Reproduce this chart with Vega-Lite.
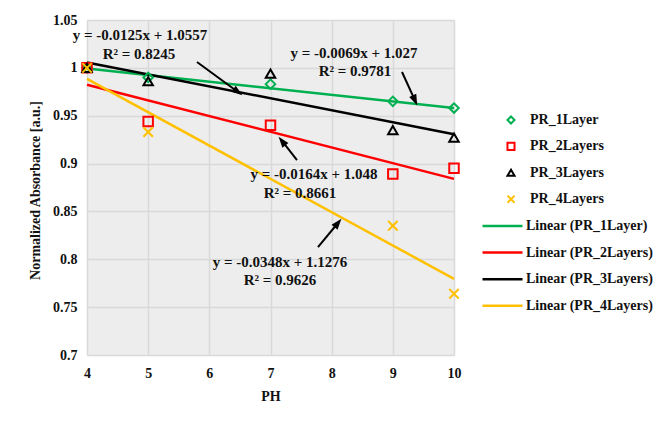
{
  "$schema": "https://vega.github.io/schema/vega-lite/v6.json",
  "width": 367,
  "height": 335,
  "autosize": {"type": "none"},
  "padding": {"left": 87, "top": 20, "right": 206, "bottom": 66},
  "background": "white",
  "config": {
    "view": {"fill": "#ededed", "stroke": null},
    "font": "Liberation Serif",
    "axis": {
      "labelFont": "Liberation Serif", "labelFontWeight": "bold", "labelFontSize": 14, "labelColor": "#111",
      "titleFont": "Liberation Serif", "titleFontWeight": "bold", "titleFontSize": 14, "titleColor": "#111",
      "domain": false, "ticks": false, "gridColor": "#d9d9d9", "gridWidth": 1.5, "labelFlush": false
    },
    "legend": {
      "labelFont": "Liberation Serif", "labelFontWeight": "bold", "labelFontSize": 14, "labelColor": "#111",
      "padding": 0
    }
  },
  "datasets": {
    "points": [
      {"series": "PR_1Layer", "ph": 4, "abs": 1.0},
      {"series": "PR_1Layer", "ph": 5, "abs": 0.99},
      {"series": "PR_1Layer", "ph": 7, "abs": 0.983},
      {"series": "PR_1Layer", "ph": 9, "abs": 0.965},
      {"series": "PR_1Layer", "ph": 10, "abs": 0.958},
      {"series": "PR_2Layers", "ph": 4, "abs": 1.0},
      {"series": "PR_2Layers", "ph": 5, "abs": 0.944},
      {"series": "PR_2Layers", "ph": 7, "abs": 0.94},
      {"series": "PR_2Layers", "ph": 9, "abs": 0.889},
      {"series": "PR_2Layers", "ph": 10, "abs": 0.895},
      {"series": "PR_3Layers", "ph": 4, "abs": 1.0},
      {"series": "PR_3Layers", "ph": 5, "abs": 0.986},
      {"series": "PR_3Layers", "ph": 7, "abs": 0.994},
      {"series": "PR_3Layers", "ph": 9, "abs": 0.935},
      {"series": "PR_3Layers", "ph": 10, "abs": 0.927},
      {"series": "PR_4Layers", "ph": 4, "abs": 1.0},
      {"series": "PR_4Layers", "ph": 5, "abs": 0.933},
      {"series": "PR_4Layers", "ph": 9, "abs": 0.835},
      {"series": "PR_4Layers", "ph": 10, "abs": 0.764}
    ],
    "trends": [
      {"trend": "Linear (PR_1Layer)", "ph": 4, "abs": 0.9994},
      {"trend": "Linear (PR_1Layer)", "ph": 10, "abs": 0.958},
      {"trend": "Linear (PR_2Layers)", "ph": 4, "abs": 0.9824},
      {"trend": "Linear (PR_2Layers)", "ph": 10, "abs": 0.884},
      {"trend": "Linear (PR_3Layers)", "ph": 4, "abs": 1.0057},
      {"trend": "Linear (PR_3Layers)", "ph": 10, "abs": 0.9307},
      {"trend": "Linear (PR_4Layers)", "ph": 4, "abs": 0.9884},
      {"trend": "Linear (PR_4Layers)", "ph": 10, "abs": 0.7796}
    ],
    "notes": [
      {"text": "y = -0.0125x + 1.0557", "ph": 4.866, "abs": 1.0343},
      {"text": "R² = 0.8245", "ph": 4.85, "abs": 1.0145},
      {"text": "y = -0.0069x + 1.027", "ph": 8.365, "abs": 1.0155},
      {"text": "R² = 0.9781", "ph": 8.381, "abs": 0.9967},
      {"text": "y = -0.0164x + 1.048", "ph": 7.711, "abs": 0.8891},
      {"text": "R² = 0.8661", "ph": 7.482, "abs": 0.8692},
      {"text": "y = -0.0348x + 1.1276", "ph": 7.155, "abs": 0.7971},
      {"text": "R² = 0.9626", "ph": 7.155, "abs": 0.7783}
    ],
    "arrows": [
      {"id": 1, "ph": 5.798, "abs": 1.0061, "hph": 6.468, "habs": 0.9748},
      {"id": 2, "ph": 9.15, "abs": 0.9957, "hph": 9.362, "habs": 0.966},
      {"id": 3, "ph": 7.433, "abs": 0.9037, "hph": 7.188, "habs": 0.9236},
      {"id": 4, "ph": 7.776, "abs": 0.8128, "hph": 8.103, "habs": 0.8379}
    ]
  },
  "layer": [
    {
      "data": {"name": "trends"},
      "mark": {"type": "line", "strokeWidth": 2.5},
      "encoding": {
        "x": {"field": "ph", "type": "quantitative", "title": "PH",
          "scale": {"domain": [4, 10], "nice": false, "zero": false},
          "axis": {"values": [4, 5, 6, 7, 8, 9, 10], "format": "d", "labelPadding": 11, "titleY": 41, "titleBaseline": "middle"}},
        "y": {"field": "abs", "type": "quantitative", "title": "Normalized Absorbance [a.u.]",
          "scale": {"domain": [0.7, 1.05], "nice": false, "zero": false},
          "axis": {"values": [0.7, 0.75, 0.8, 0.85, 0.9, 0.95, 1, 1.05], "format": "~g", "labelPadding": 10,
            "titleX": -52, "titleY": 170, "titleAngle": -90, "titleAlign": "center", "titleBaseline": "middle"}},
        "stroke": {"field": "trend", "type": "nominal",
          "scale": {"domain": ["Linear (PR_1Layer)", "Linear (PR_2Layers)", "Linear (PR_3Layers)", "Linear (PR_4Layers)"],
            "range": ["#00B050", "#FF0000", "#000000", "#FFC000"]},
          "legend": {"title": null, "orient": "none", "legendX": 394, "legendY": 199,
            "symbolType": "stroke", "symbolSize": 1600, "symbolStrokeWidth": 2.5,
            "clipHeight": 14, "rowPadding": 12.6, "labelOffset": 2}}
      }
    },
    {
      "data": {"name": "points"},
      "mark": {"type": "point", "filled": false, "strokeWidth": 2, "size": 90, "opacity": 1},
      "encoding": {
        "x": {"field": "ph", "type": "quantitative"},
        "y": {"field": "abs", "type": "quantitative"},
        "color": {"field": "series", "type": "nominal",
          "scale": {"domain": ["PR_1Layer", "PR_2Layers", "PR_3Layers", "PR_4Layers"],
            "range": ["#00B050", "#FF0000", "#000000", "#FFC000"]},
          "legend": {"title": null, "orient": "none", "legendX": 417, "legendY": 93,
            "symbolSize": 50, "symbolStrokeWidth": 2, "clipHeight": 14, "rowPadding": 12.4, "labelOffset": 12}},
        "shape": {"field": "series", "type": "nominal",
          "scale": {"domain": ["PR_1Layer", "PR_2Layers", "PR_3Layers", "PR_4Layers"],
            "range": ["diamond", "square", "triangle-up", "M-1,-1L1,1M-1,1L1,-1"]},
          "legend": {"title": null, "orient": "none", "legendX": 417, "legendY": 93,
            "symbolSize": 50, "symbolStrokeWidth": 2, "clipHeight": 14, "rowPadding": 12.4, "labelOffset": 12}}
      }
    },
    {
      "data": {"name": "arrows"},
      "mark": {"type": "rule", "color": "#000", "strokeWidth": 2},
      "encoding": {
        "x": {"field": "ph", "type": "quantitative"},
        "y": {"field": "abs", "type": "quantitative"},
        "x2": {"field": "hph"},
        "y2": {"field": "habs"}
      }
    },
    {
      "data": {"name": "arrows"},
      "transform": [{"filter": "datum.id == 1"}],
      "mark": {"type": "point", "shape": "M0,-1L0.7,1L-0.7,1Z", "filled": true, "color": "#000", "size": 120, "angle": 126, "opacity": 1},
      "encoding": {"x": {"field": "hph", "type": "quantitative"}, "y": {"field": "habs", "type": "quantitative"}}
    },
    {
      "data": {"name": "arrows"},
      "transform": [{"filter": "datum.id == 2"}],
      "mark": {"type": "point", "shape": "M0,-1L0.7,1L-0.7,1Z", "filled": true, "color": "#000", "size": 120, "angle": 156, "opacity": 1},
      "encoding": {"x": {"field": "hph", "type": "quantitative"}, "y": {"field": "habs", "type": "quantitative"}}
    },
    {
      "data": {"name": "arrows"},
      "transform": [{"filter": "datum.id == 3"}],
      "mark": {"type": "point", "shape": "M0,-1L0.7,1L-0.7,1Z", "filled": true, "color": "#000", "size": 120, "angle": -38, "opacity": 1},
      "encoding": {"x": {"field": "hph", "type": "quantitative"}, "y": {"field": "habs", "type": "quantitative"}}
    },
    {
      "data": {"name": "arrows"},
      "transform": [{"filter": "datum.id == 4"}],
      "mark": {"type": "point", "shape": "M0,-1L0.7,1L-0.7,1Z", "filled": true, "color": "#000", "size": 120, "angle": 39, "opacity": 1},
      "encoding": {"x": {"field": "hph", "type": "quantitative"}, "y": {"field": "habs", "type": "quantitative"}}
    },
    {
      "data": {"name": "notes"},
      "mark": {"type": "text", "font": "Liberation Serif", "fontWeight": "bold", "fontSize": 15, "color": "#111", "align": "center", "baseline": "middle"},
      "encoding": {
        "x": {"field": "ph", "type": "quantitative"},
        "y": {"field": "abs", "type": "quantitative"},
        "text": {"field": "text"}
      }
    }
  ]
}
